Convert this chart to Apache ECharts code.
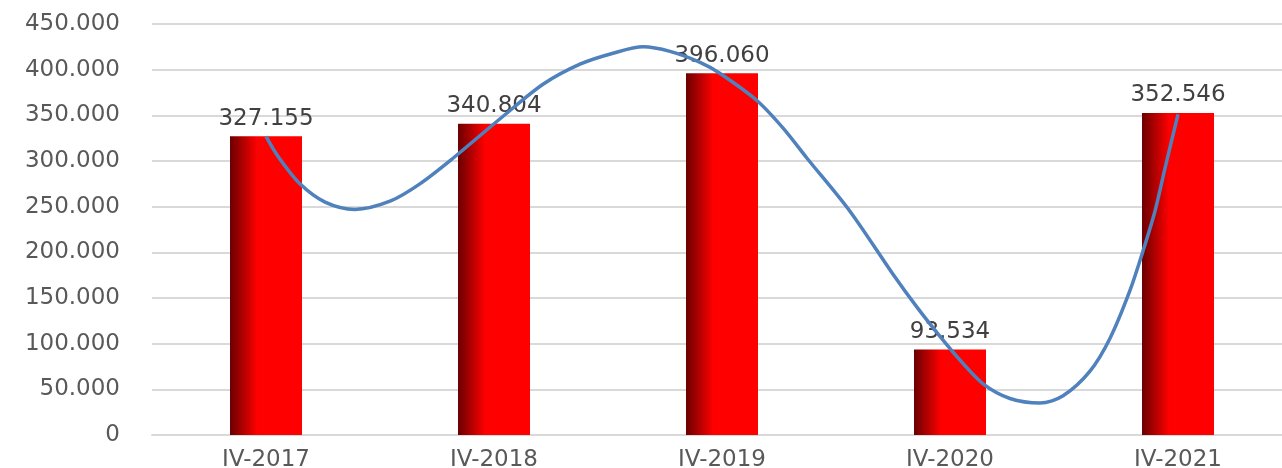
<!DOCTYPE html>
<html>
<head>
<meta charset="utf-8">
<script src="https://cdn.jsdelivr.net/npm/echarts@6/dist/echarts.min.js"></script>
<style>
  html, body { margin: 0; padding: 0; background: #fff; }
  #chart { width: 1282px; height: 468px; }
</style>
</head>
<body>
<div id="chart"></div>
<script>
// categories and bar values
var categories = ['IV-2017', 'IV-2018', 'IV-2019', 'IV-2020', 'IV-2021']
var barValues = [327155, 340804, 396060, 93534, 352546]

// hand drawn curve over the bars
// x = category position (0 = IV-2017), y = value in thousands
var curveX = [0, 0.053, 0.149, 0.259, 0.39, 0.544, 0.675, 0.82, 1.04, 1.215, 1.377, 1.522, 1.654, 1.772, 1.904, 1.99, 2.154, 2.268, 2.373, 2.561, 2.75, 2.855, 2.956, 3.044, 3.145, 3.263, 3.395, 3.496, 3.614, 3.702, 3.789, 3.846, 3.899, 3.943, 4.0]
var curveY = [327, 305, 275, 255, 247, 256, 275, 303, 349, 384, 406, 418, 425, 420, 408, 396, 366, 336, 303, 245, 176, 140, 108, 82, 56, 40, 35, 43, 70, 106, 158, 201, 245, 292, 351]

// axis ticks
var yMax = 450000
var yStep = 50000

var font = 'DejaVu Sans'

function fmt(n) {
  if (n === 0) return '0'
  return (n / 1000).toFixed(3)
}

var curveData = curveX.map(function (x, i) {
  return [x, curveY[i] * 1000]
})

var option = {
  animation: false,
  grid: { left: 152, width: 1140, top: 24, bottom: 33, outerBoundsMode: 'none' },
  xAxis: [
    {
      type: 'category',
      data: categories,
      axisLine: { lineStyle: { color: '#d9d9d9', width: 2 } },
      axisTick: { show: false },
      axisLabel: { color: '#595959', fontSize: 23, fontFamily: font, margin: 14 }
    },
    {
      // hidden axis for the curve, lined up with category centres
      type: 'value',
      min: -0.5,
      max: 4.5,
      show: false
    }
  ],
  yAxis: {
    type: 'value',
    min: 0,
    max: yMax,
    interval: yStep,
    axisLine: { show: false },
    axisTick: { show: false },
    splitLine: { lineStyle: { color: '#d9d9d9', width: 2 } },
    axisLabel: {
      color: '#595959',
      fontSize: 23,
      fontFamily: font,
      margin: 32,
      formatter: fmt
    }
  },
  series: [
    {
      type: 'bar',
      data: barValues,
      barWidth: 72,
      itemStyle: {
        color: {
          type: 'linear', x: 0, y: 0, x2: 1, y2: 0,
          colorStops: [
            { offset: 0, color: '#6a0000' },
            { offset: 0.38, color: '#ff0000' },
            { offset: 1, color: '#ff0000' }
          ]
        }
      },
      label: {
        show: true,
        position: 'top',
        distance: 6,
        color: '#404040',
        fontSize: 23,
        fontFamily: font,
        formatter: function (p) { return fmt(p.value) }
      }
    },
    {
      type: 'line',
      xAxisIndex: 1,
      data: curveData,
      smooth: 0.3,
      symbol: 'none',
      z: 5,
      lineStyle: { color: '#4f81bd', width: 3.5 }
    }
  ]
}

var myChart = echarts.init(document.getElementById('chart'))
myChart.setOption(option)
</script>
</body>
</html>
